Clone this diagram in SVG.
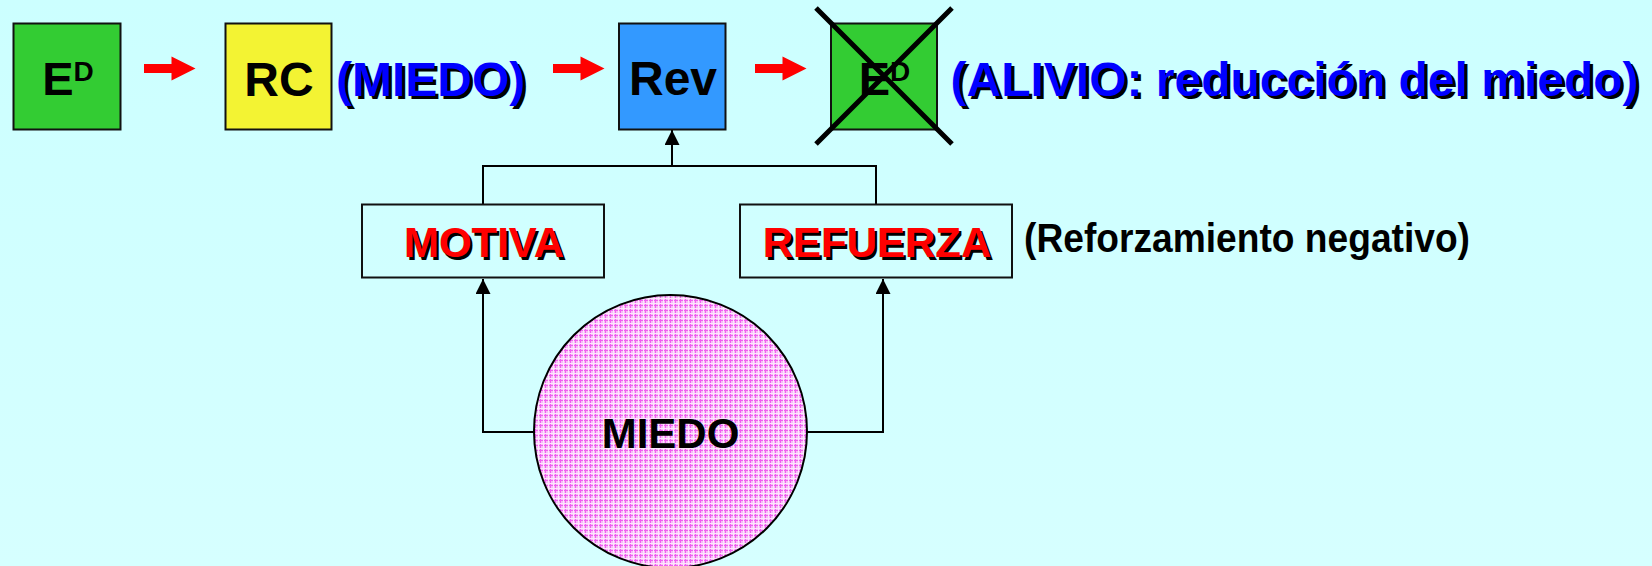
<svg xmlns="http://www.w3.org/2000/svg" width="1652" height="566" viewBox="0 0 1652 566">
<style>
.box{stroke:#111;stroke-width:2}
.bt{font-family:"Liberation Sans",Arial,sans-serif;font-weight:bold;fill:#000}
.big{font-size:48px}
.mid{font-size:42px}
.blue{fill:#0000FF}
.red{fill:#FF0000}
.sh{fill:#000}
.con{fill:none;stroke:#000;stroke-width:2}
</style>
<defs>
<linearGradient id="bg" x1="0" y1="0" x2="0" y2="1">
<stop offset="0" stop-color="#CCFFFF"/>
<stop offset="1" stop-color="#D6FFFF"/>
</linearGradient>
<pattern id="plaid" width="5" height="5" patternUnits="userSpaceOnUse">
<rect width="5" height="5" fill="#F7BDF7"/>
<rect width="5" height="1" fill="#F060F0"/>
<rect width="1" height="5" fill="#F060F0"/>
<rect y="3" width="5" height="1" fill="#FDE6FD"/>
<rect x="3" width="1" height="5" fill="#FDE6FD"/>
</pattern>
<marker id="ah" markerWidth="15" markerHeight="15" viewBox="0 0 15 15" refX="15" refY="7.5" orient="auto" markerUnits="userSpaceOnUse">
<path d="M0,0 L15,7.5 L0,15 Z" fill="#000"/>
</marker>
<path id="ra" d="M0,-4.5 H27.5 V-12 L51.5,0 L27.5,12 V4.5 H0 Z" fill="#FF0000"/>
</defs>
<rect width="1652" height="566" fill="url(#bg)"/>

<g id="connectors">
<use href="#ra" x="144" y="68.5"/>
<use href="#ra" x="553" y="68.5"/>
<use href="#ra" x="755" y="68.5"/>
<path class="con" d="M483,204 V166 H876 V204"/>
<path class="con" d="M672,166 V130" marker-end="url(#ah)"/>
<path class="con" d="M534,432 H483 V279" marker-end="url(#ah)"/>
<path class="con" d="M807,432 H883 V279" marker-end="url(#ah)"/>
</g>

<g id="node-ED">
<rect class="box" x="13.5" y="23.5" width="107" height="106" fill="#33CC33"/>
<text class="bt" x="68" y="95" font-size="47" text-anchor="middle">E<tspan font-size="28" dy="-14.5">D</tspan></text>
</g>

<g id="node-RC">
<rect class="box" x="225.5" y="23.5" width="106" height="106" fill="#F3F333"/>
<text class="bt big" x="279" y="95.5" text-anchor="middle">RC</text>
</g>

<g id="label-miedo1">
<text class="bt big sh" x="339" y="99">(MIEDO)</text>
<text class="bt big blue" x="336" y="96">(MIEDO)</text>
</g>

<g id="node-Rev">
<rect class="box" x="619" y="23.5" width="106.5" height="106" fill="#3399FF"/>
<text class="bt big" x="673" y="95" text-anchor="middle">Rev</text>
</g>

<g id="node-ED-crossed">
<rect class="box" x="831" y="23.5" width="106" height="106" fill="#33CC33"/>
<text class="bt" x="884.5" y="95" font-size="47" text-anchor="middle">E<tspan font-size="28" dy="-14.5">D</tspan></text>
<path d="M816,8 L952,144 M952,8 L816,144" stroke="#000" stroke-width="5" fill="none"/>
</g>

<g id="label-alivio">
<text class="bt big sh" x="953.5" y="99">(ALIVIO: reducción del miedo)</text>
<text class="bt big blue" x="950.5" y="96">(ALIVIO: reducción del miedo)</text>
</g>

<g id="node-motiva">
<rect class="box" x="362" y="204.5" width="242" height="73" fill="none"/>
<text class="bt mid sh" x="486.5" y="259.5" text-anchor="middle">MOTIVA</text>
<text class="bt mid red" x="484" y="257" text-anchor="middle">MOTIVA</text>
</g>

<g id="node-refuerza">
<rect class="box" x="740" y="204.5" width="272" height="73" fill="none"/>
<text class="bt mid sh" x="879.5" y="259.5" text-anchor="middle">REFUERZA</text>
<text class="bt mid red" x="877" y="257" text-anchor="middle">REFUERZA</text>
</g>

<g id="label-reforzamiento">
<text class="bt" x="1024" y="252" font-size="40" textLength="446" lengthAdjust="spacingAndGlyphs">(Reforzamiento negativo)</text>
</g>

<g id="node-miedo">
<circle cx="670.5" cy="431.5" r="136.5" fill="url(#plaid)" stroke="#000" stroke-width="2"/>
<text class="bt mid" x="670.5" y="448" text-anchor="middle">MIEDO</text>
</g>
</svg>
